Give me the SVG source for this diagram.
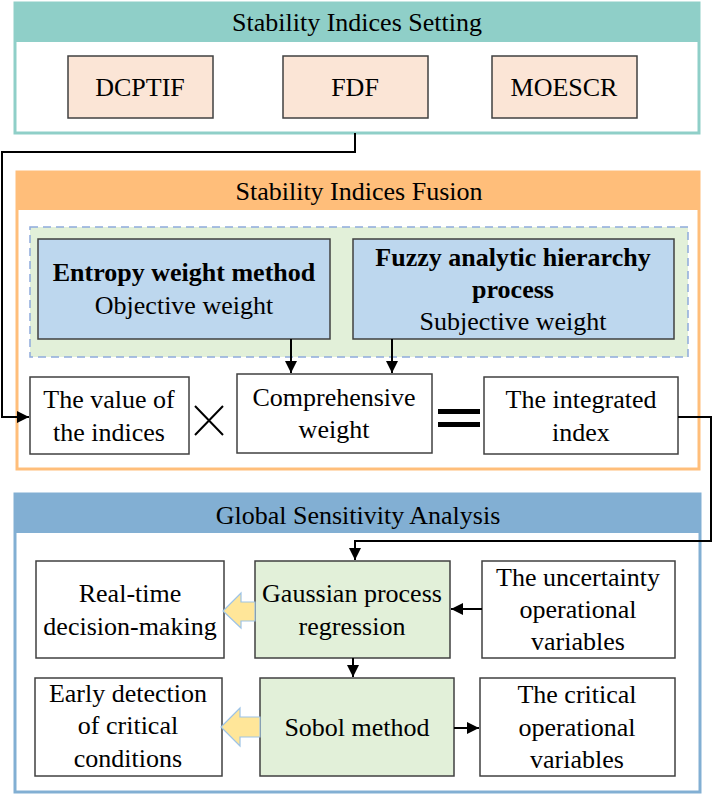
<svg xmlns="http://www.w3.org/2000/svg" width="714" height="795" viewBox="0 0 714 795">
<defs>
<style>
text{font-family:"Liberation Serif",Tinos,"Times New Roman","DejaVu Serif",serif;font-size:26px;fill:#000;text-anchor:middle;dominant-baseline:central}
.b{font-weight:bold}
.box{stroke:#404040;stroke-width:1.5}
.w{fill:#fff}
.peach{fill:#FBE5D6}
.blue{fill:#BDD7EE}
.green{fill:#E2F0D9}
.conn{fill:none;stroke:#000;stroke-width:2}
.blk{fill:#FFE699;stroke:#9DC3E6;stroke-width:1.2}
</style>
<marker id="ah" viewBox="0 0 10 10" refX="10" refY="5" markerWidth="6" markerHeight="6" orient="auto" markerUnits="strokeWidth">
<path d="M0,0 L10,5 L0,10 z" fill="#000"/>
</marker>
</defs>

<g id="panel-setting">
<rect x="15" y="3" width="684" height="130" fill="#fff" stroke="#8FCFC8" stroke-width="3"/>
<rect x="15" y="3" width="684" height="39" fill="#8FCFC8"/>
<text x="357" y="22">Stability Indices Setting</text>
</g>
<g id="dcptif"><rect class="box peach" x="68" y="56" width="145" height="62"/><text x="140" y="87">DCPTIF</text></g>
<g id="fdf"><rect class="box peach" x="283" y="56" width="145" height="62"/><text x="355" y="87">FDF</text></g>
<g id="moescr"><rect class="box peach" x="492" y="56" width="145" height="62"/><text x="564" y="87">MOESCR</text></g>

<g id="panel-fusion">
<rect x="17" y="172" width="682" height="297" fill="#fff" stroke="#FFBE7A" stroke-width="3"/>
<rect x="17" y="172" width="682" height="38" fill="#FFBE7A"/>
<text x="359" y="191">Stability Indices Fusion</text>
<rect x="30" y="227" width="658" height="130" fill="#E2F0D9" stroke="#8FAADC" stroke-width="1.5" stroke-dasharray="8,5"/>
</g>
<g id="entropy"><rect class="box blue" x="38" y="239" width="292" height="100"/>
<text class="b" x="184" y="272">Entropy weight method</text><text x="184" y="305">Objective weight</text></g>
<g id="fahp"><rect class="box blue" x="353" y="239" width="321" height="100"/>
<text class="b" x="513" y="257">Fuzzy analytic hierarchy</text><text class="b" x="513" y="289">process</text><text x="513" y="321">Subjective weight</text></g>
<g id="value"><rect class="box w" x="30" y="377" width="159" height="77"/>
<text x="109" y="399">The value of</text><text x="109" y="432">the indices</text></g>
<g id="times"><path d="M195,406 L223,435 M223,406 L195,435" stroke="#000" stroke-width="2" fill="none"/></g>
<g id="comp"><rect class="box w" x="237" y="374" width="195" height="79"/>
<text x="334" y="397">Comprehensive</text><text x="334" y="429">weight</text></g>
<g id="equals"><rect x="438" y="409" width="42" height="5" fill="#000"/><rect x="438" y="422" width="42" height="5" fill="#000"/></g>
<g id="integrated"><rect class="box w" x="484" y="377" width="194" height="77"/>
<text x="581" y="399">The integrated</text><text x="581" y="432">index</text></g>

<g id="panel-gsa">
<rect x="15" y="494" width="685" height="298" fill="#fff" stroke="#82AFD3" stroke-width="3"/>
<rect x="15" y="494" width="685" height="39" fill="#82AFD3"/>
<text x="358" y="515">Global Sensitivity Analysis</text>
</g>
<g id="realtime"><rect class="box w" x="36" y="561" width="188" height="97"/>
<text x="130" y="593">Real-time</text><text x="130" y="626">decision-making</text></g>
<g id="gpr"><rect class="box green" x="255" y="561" width="195" height="97"/>
<text x="352" y="593">Gaussian process</text><text x="352" y="626">regression</text></g>
<g id="uncertainty"><rect class="box w" x="482" y="561" width="193" height="97"/>
<text x="578" y="577">The uncertainty</text><text x="578" y="609">operational</text><text x="578" y="641">variables</text></g>
<g id="early"><rect class="box w" x="35" y="678" width="187" height="98"/>
<text x="128" y="693">Early detection</text><text x="128" y="725">of critical</text><text x="128" y="758">conditions</text></g>
<g id="sobol"><rect class="box green" x="260" y="678" width="194" height="98"/>
<text x="357" y="727">Sobol method</text></g>
<g id="critical"><rect class="box w" x="480" y="678" width="195" height="98"/>
<text x="577" y="694">The critical</text><text x="577" y="727">operational</text><text x="577" y="759">variables</text></g>

<g id="connectors">
<path class="conn" d="M355,133 V152 H2 V417 H29" marker-end="url(#ah)"/>
<path class="conn" d="M291,339 V373" marker-end="url(#ah)"/>
<path class="conn" d="M392,339 V373" marker-end="url(#ah)"/>
<path class="conn" d="M678,417 H711 V541 H355 V560" marker-end="url(#ah)"/>
<path class="conn" d="M482,609 H451" marker-end="url(#ah)"/>
<path class="conn" d="M353,658 V677" marker-end="url(#ah)"/>
<path class="conn" d="M454,728 H479" marker-end="url(#ah)"/>
<path class="blk" d="M255,602 H241 V593 L223,611 L241,628 V621 H255 Z"/>
<path class="blk" d="M260,717 H240 V708 L221,727 L240,746 V737 H260 Z"/>
</g>
</svg>
